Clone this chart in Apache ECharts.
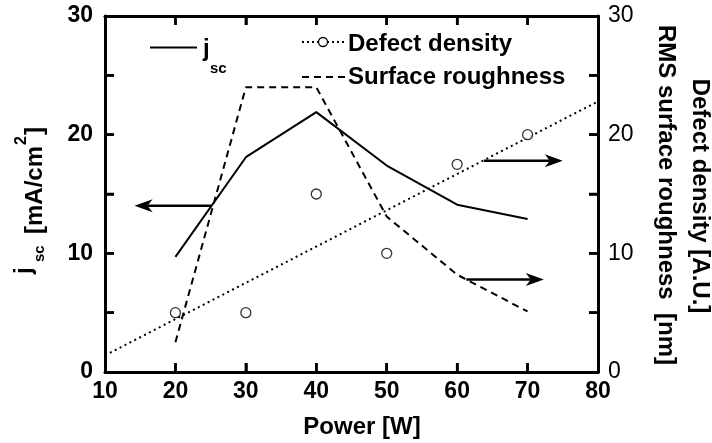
<!DOCTYPE html>
<html><head><meta charset="utf-8">
<script src="https://cdn.jsdelivr.net/npm/echarts@6/dist/echarts.min.js"></script>
<style>html,body{margin:0;padding:0;background:#fff}#c{width:712px;height:443px}</style>
</head><body><div id="c"></div>
<script>
// ---- data ----
const power = [20, 30, 40, 50, 60, 70];
const jsc = [9.7, 18.1, 21.9, 17.4, 14.1, 12.9];
const roughness = [2.5, 24.0, 24.0, 13.1, 8.2, 5.1];
const defect = [5.0, 5.0, 15.0, 10.0, 17.5, 20.0];
const trendX = [10, 80];
const trendY = [1.4, 22.8];
const arrowFromX = [25.2, 63.8, 61.3];
const arrowToX = [14.2, 75.0, 72.3];
const arrowY = [14.0, 17.8, 7.8];
const xRange = [10, 80];
const yRange = [0, 30];
const xTickVals = [20, 30, 40, 50, 60, 70];
const yTickVals = [5, 10, 15, 20, 25];

const FONT = '"Liberation Sans", Arial, sans-serif';
const pairs = (xs, ys) => xs.map((x, i) => [x, ys[i]]);
const TICK_LEN = 9, TICK_W = 2.5;

const axisLine = () => ({show: true, onZero: false, lineStyle: {color: '#000', width: 3}});
const tick = () => ({show: true, inside: true, length: TICK_LEN, lineStyle: {color: '#000', width: TICK_W}});

function txt(x, y, text, size) {
  return {type: 'text', x: x, y: y, style: {text: text, font: 'bold ' + size + 'px ' + FONT, fill: '#000', align: 'left', verticalAlign: 'middle'}};
}
function seg(x1, y1, x2, y2) {
  return {type: 'line', z: 100, silent: true, shape: {x1: x1, y1: y1, x2: x2, y2: y2}, style: {stroke: '#000', lineWidth: TICK_W}};
}

const graphicBase = [
  {type: 'line', shape: {x1: 150, y1: 47.5, x2: 197, y2: 47.5}, style: {stroke: '#000', lineWidth: 2}},
  txt(203, 49, 'j', 24),
  txt(210, 69, 'sc', 15),
  {type: 'line', shape: {x1: 302, y1: 42, x2: 345, y2: 42}, style: {stroke: '#000', lineWidth: 2, lineDash: [2, 3]}},
  {type: 'circle', shape: {cx: 323, cy: 42, r: 4.5}, style: {fill: '#fff', stroke: '#000', lineWidth: 1.3}},
  txt(348, 44, 'Defect density', 24),
  {type: 'line', shape: {x1: 302, y1: 77, x2: 345, y2: 77}, style: {stroke: '#000', lineWidth: 2, lineDash: [7, 5]}},
  txt(348, 77, 'Surface roughness', 24),
  {type: 'text', x: 362, y: 427, style: {text: 'Power [W]', font: 'bold 24px ' + FONT, fill: '#000', align: 'center', verticalAlign: 'middle'}},
  {type: 'group', x: 0, y: 278, rotation: Math.PI / 2, children: [
    txt(4, 24, 'j', 24),
    txt(16, 40, 'sc', 15),
    txt(44, 35, '[mA/cm', 24),
    txt(133, 22, '2', 16),
    txt(143, 35, ']', 24)
  ]},
  {type: 'text', x: 699.5, y: 196, rotation: -Math.PI / 2, style: {text: 'Defect density [A.U.]', font: 'bold 24px ' + FONT, fill: '#000', align: 'center', verticalAlign: 'middle'}},
  {type: 'text', x: 666, y: 195, rotation: -Math.PI / 2, style: {text: 'RMS surface roughness  [nm]', font: 'bold 24px ' + FONT, fill: '#000', align: 'center', verticalAlign: 'middle'}}
];

const option = {
  animation: false,
  backgroundColor: '#fff',
  grid: {left: 105, right: 114, top: 16, bottom: 71, outerBoundsMode: 'none', containLabel: false},
  xAxis: [
    {type: 'value', min: xRange[0], max: xRange[1], interval: 10, position: 'bottom',
     axisLine: axisLine(), axisTick: tick(), splitLine: {show: false},
     axisLabel: {margin: 8, fontFamily: FONT, fontWeight: 'bold', fontSize: 23, color: '#000'}},
    {type: 'value', min: xRange[0], max: xRange[1], interval: 10, position: 'top',
     axisLine: axisLine(), axisTick: tick(), splitLine: {show: false}, axisLabel: {show: false}}
  ],
  yAxis: [
    {type: 'value', min: yRange[0], max: yRange[1], interval: 5, position: 'left',
     axisLine: axisLine(), axisTick: tick(), splitLine: {show: false},
     axisLabel: {margin: 12, fontFamily: FONT, fontWeight: 'bold', fontSize: 23, color: '#000',
                 formatter: v => (v % 10 === 0 ? String(v) : '')}},
    {type: 'value', min: yRange[0], max: yRange[1], interval: 5, position: 'right',
     axisLine: axisLine(), axisTick: tick(), splitLine: {show: false},
     axisLabel: {margin: 10, fontFamily: FONT, fontSize: 23, color: '#000',
                 formatter: v => (v % 10 === 0 ? String(v) : '')}}
  ],
  series: [
    {name: 'jsc', type: 'line', xAxisIndex: 0, yAxisIndex: 0, data: pairs(power, jsc),
     symbol: 'none', lineStyle: {color: '#000', width: 2}},
    {name: 'Surface roughness', type: 'line', xAxisIndex: 0, yAxisIndex: 1, data: pairs(power, roughness),
     symbol: 'none', lineStyle: {color: '#000', width: 2, type: [7, 5]}},
    {name: 'Defect trend', type: 'line', xAxisIndex: 0, yAxisIndex: 1, data: pairs(trendX, trendY),
     symbol: 'none', lineStyle: {color: '#000', width: 2, type: [2, 3.5]}},
    {name: 'Defect density', type: 'scatter', xAxisIndex: 0, yAxisIndex: 1, data: pairs(power, defect),
     symbol: 'circle', symbolSize: 10, itemStyle: {color: '#fff', borderColor: '#000', borderWidth: 1.3}, z: 5},
    {name: 'arrows', type: 'custom', xAxisIndex: 0, yAxisIndex: 0, clip: false, silent: true,
     data: arrowY.map((y, i) => [arrowFromX[i], arrowToX[i], y]),
     encode: {x: [0, 1], y: 2},
     renderItem: function (params, api) {
       const a = api.coord([api.value(0), api.value(2)]);
       const b = api.coord([api.value(1), api.value(2)]);
       const d = Math.sign(b[0] - a[0]);
       const L = 18, H = 6.5, N = 5;
       return {type: 'group', children: [
         {type: 'line', shape: {x1: a[0], y1: a[1], x2: b[0] - d * (L - N), y2: b[1]}, style: {stroke: '#000', lineWidth: 2.5}},
         {type: 'polygon', shape: {points: [[b[0], b[1]], [b[0] - d * L, b[1] - H], [b[0] - d * (L - N), b[1]], [b[0] - d * L, b[1] + H]]}, style: {fill: '#000'}}
       ]};
     }}
  ],
  graphic: graphicBase
};

const chart = echarts.init(document.getElementById('c'));
chart.setOption(option);

// inward frame ticks, positioned through the chart's own axis scales
const toPx = (x, y) => chart.convertToPixel({gridIndex: 0}, [x, y]);
const tickEls = [];
xTickVals.forEach(v => {
  const b = toPx(v, yRange[0]), t = toPx(v, yRange[1]);
  tickEls.push(seg(b[0], b[1], b[0], b[1] - TICK_LEN), seg(t[0], t[1], t[0], t[1] + TICK_LEN));
});
yTickVals.forEach(v => {
  const l = toPx(xRange[0], v), r = toPx(xRange[1], v);
  tickEls.push(seg(l[0], l[1], l[0] + TICK_LEN, l[1]), seg(r[0], r[1], r[0] - TICK_LEN, r[1]));
});
chart.setOption({graphic: graphicBase.concat(tickEls)});
</script>
</body></html>
